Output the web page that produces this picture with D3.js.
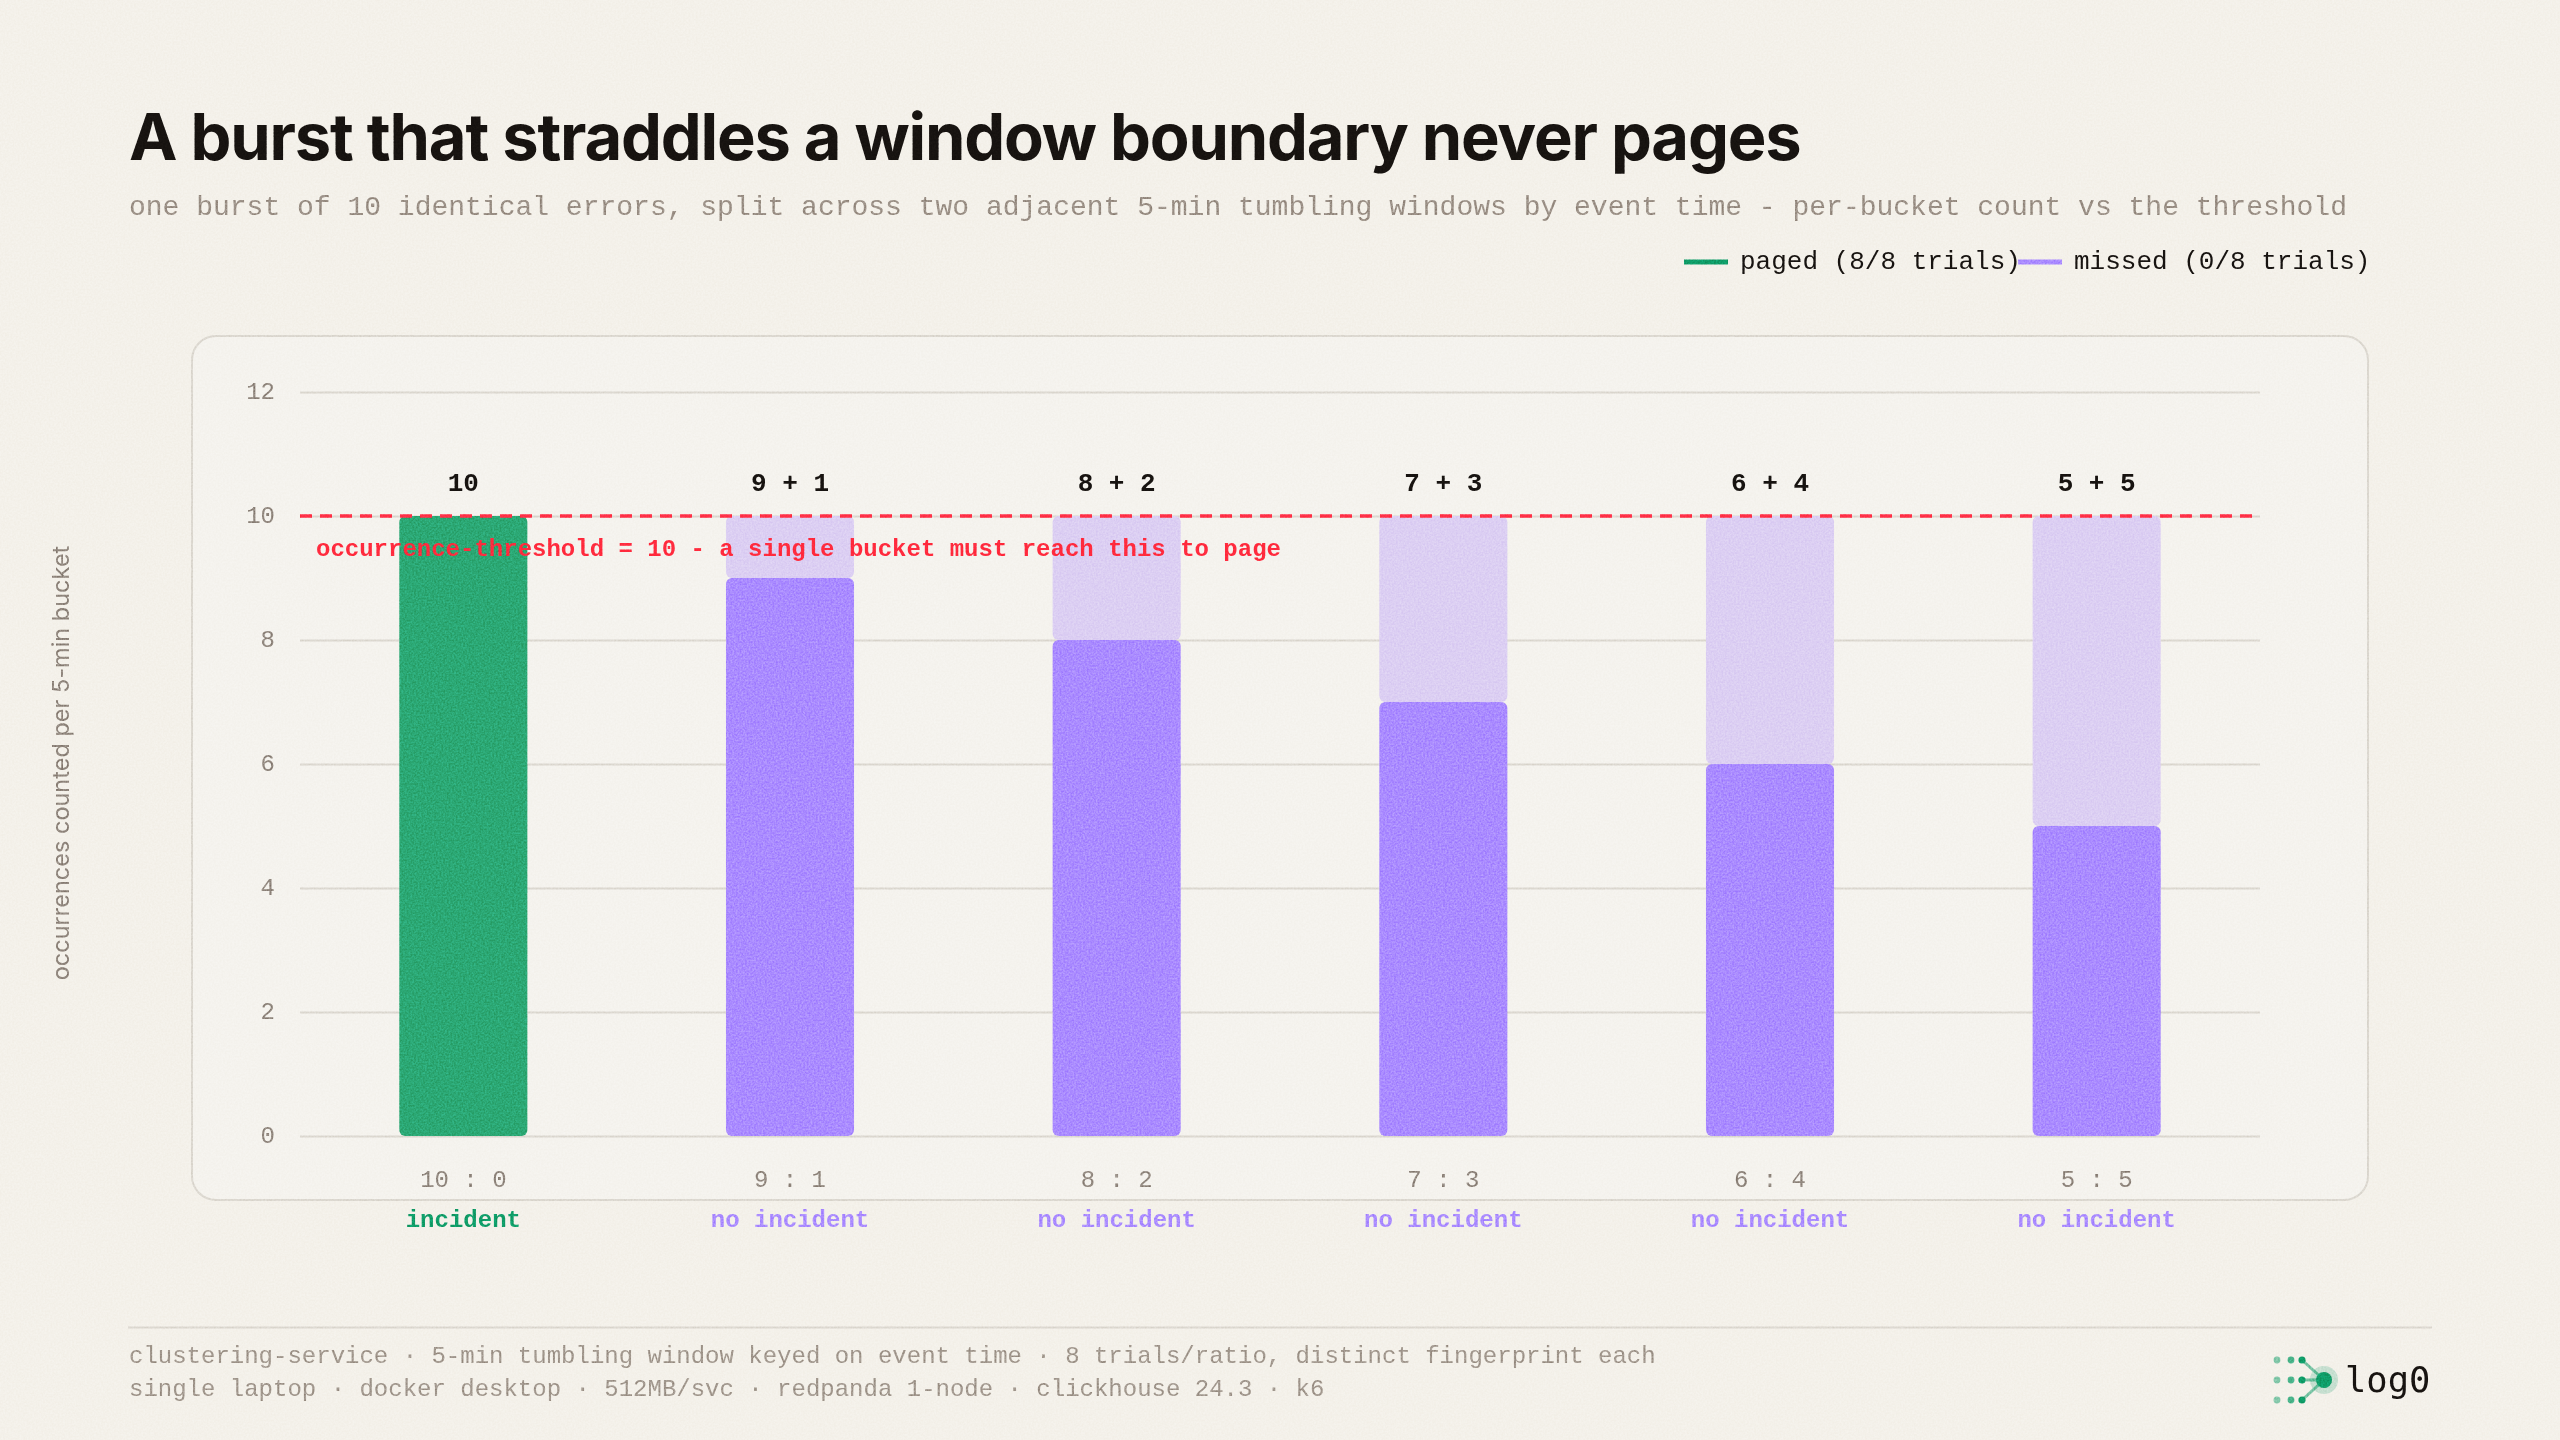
<!DOCTYPE html>
<html>
<head>
<meta charset="utf-8">
<script src="https://cdn.jsdelivr.net/npm/d3@7"></script>
<style>
  html, body { margin: 0; padding: 0; background: #f4f1ea; }
  svg { display: block; }
  text { font-family: "Liberation Mono", monospace; }
  .title { font-family: Inter, sans-serif; font-weight: 700; font-size: 65px; fill: #171310; letter-spacing: -1.2px; }
  .subtitle { font-size: 28px; fill: #9a8f85; }
  .legend-label { font-size: 26px; fill: #171310; }
  .ylabel { font-family: Inter, sans-serif; font-size: 23.5px; fill: #8f857c; }
  .grid line { stroke: #dcd8d0; stroke-width: 2; }
  .grid .domain { display: none; }
  .grid text { font-size: 24px; fill: #8f857c; }
  .ratio line, .ratio .domain { display: none; }
  .ratio text { font-size: 24px; fill: #8f857c; }
  .bar-label { font-size: 26px; font-weight: bold; fill: #171310; text-anchor: middle; }
  .status { font-size: 24px; font-weight: bold; text-anchor: middle; }
  .threshold-label { font-size: 24px; font-weight: bold; fill: #ff2a3d; }
  .footer { font-size: 24px; fill: #a0968c; }
  .logo-text { font-family: "DejaVu Sans Mono", monospace; font-size: 35.5px; fill: #171310; }
  .grain { mix-blend-mode: overlay; opacity: 0.18; pointer-events: none; }
</style>
</head>
<body>
<svg id="chart" width="2560" height="1440">
  <defs>
    <filter id="grain" x="0" y="0" width="100%" height="100%" color-interpolation-filters="sRGB">
      <feTurbulence type="fractalNoise" baseFrequency="0.55" numOctaves="2" seed="4"/>
      <feColorMatrix type="matrix" values="1.8 0 0 0 -0.4  1.8 0 0 0 -0.4  1.8 0 0 0 -0.4  0 0 0 0 1"/>
    </filter>
  </defs>
</svg>
<script>
const ratios = ["10 : 0", "9 : 1", "8 : 2", "7 : 3", "6 : 4", "5 : 5"];
const barLabels = ["10", "9 + 1", "8 + 2", "7 + 3", "6 + 4", "5 + 5"];
const firstBucket = [10, 9, 8, 7, 6, 5];
const secondBucket = [0, 1, 2, 3, 4, 5];
const statuses = ["incident", "no incident", "no incident", "no incident", "no incident", "no incident"];
const yTicks = [0, 2, 4, 6, 8, 10, 12];
const threshold = 10;
const legendItems = ["paged (8/8 trials)", "missed (0/8 trials)"];
const footerLines = [
  "clustering-service · 5-min tumbling window keyed on event time · 8 trials/ratio, distinct fingerprint each",
  "single laptop · docker desktop · 512MB/svc · redpanda 1-node · clickhouse 24.3 · k6"
];

const GREEN = "#0f9d68";
const GREEN_BAR = "#2ba874";
const PURPLE = "#aa8bff";
const PURPLE_LIGHT = "#dccff3";
const RED = "#ff2f46";

const svg = d3.select("#chart");

svg.append("text").attr("class", "title").attr("x", 129).attr("y", 160)
  .text("A burst that straddles a window boundary never pages");
svg.append("text").attr("class", "subtitle").attr("x", 129).attr("y", 215)
  .text("one burst of 10 identical errors, split across two adjacent 5-min tumbling windows by event time - per-bucket count vs the threshold");

// legend
const legendX = [1684, 2018];
const legendColors = [GREEN, PURPLE];
legendItems.forEach((label, i) => {
  svg.append("rect").attr("x", legendX[i]).attr("y", 259.5).attr("width", 44).attr("height", 5)
    .attr("fill", legendColors[i]);
  svg.append("text").attr("class", "legend-label").attr("x", legendX[i] + 56).attr("y", 269).text(label);
});

// card
svg.append("rect").attr("x", 192).attr("y", 336).attr("width", 2176).attr("height", 864)
  .attr("rx", 24).attr("fill", "#f5f3ee").attr("stroke", "#dcd8d0").attr("stroke-width", 2);

const x = d3.scaleBand().domain(ratios).range([300, 2260]).paddingInner(0.608).paddingOuter(0.304);
const y = d3.scaleLinear().domain([0, 12]).range([1136, 392]);

svg.append("g").attr("class", "grid")
  .attr("transform", "translate(300,0)")
  .call(d3.axisLeft(y).tickValues(yTicks).tickSize(-1960).tickPadding(25).tickFormat(d3.format("d")))
  .selectAll("text").attr("dy", "0.28em");

svg.append("g").attr("class", "ratio")
  .attr("transform", "translate(0,1136)")
  .call(d3.axisBottom(x).tickSize(0).tickPadding(34));

// bars: the second bucket sits behind, on top of the first
svg.append("g").selectAll("rect")
  .data(ratios.filter((d, i) => secondBucket[i] > 0))
  .join("rect")
  .attr("x", d => x(d))
  .attr("y", d => y(firstBucket[ratios.indexOf(d)] + secondBucket[ratios.indexOf(d)]))
  .attr("width", x.bandwidth())
  .attr("height", d => y(0) - y(secondBucket[ratios.indexOf(d)]))
  .attr("rx", 6)
  .attr("fill", PURPLE_LIGHT);

svg.append("g").selectAll("rect")
  .data(ratios)
  .join("rect")
  .attr("x", d => x(d))
  .attr("y", (d, i) => y(firstBucket[i]))
  .attr("width", x.bandwidth())
  .attr("height", (d, i) => y(0) - y(firstBucket[i]))
  .attr("rx", 6)
  .attr("fill", (d, i) => statuses[i] === "incident" ? GREEN_BAR : PURPLE);

svg.append("line").attr("x1", 300).attr("x2", 2260).attr("y1", y(threshold)).attr("y2", y(threshold))
  .attr("stroke", RED).attr("stroke-width", 3.5).attr("stroke-dasharray", "12 8");

svg.append("text").attr("class", "threshold-label").attr("x", 316).attr("y", 556)
  .text("occurrence-threshold = 10 - a single bucket must reach this to page");

svg.append("g").selectAll("text")
  .data(barLabels)
  .join("text")
  .attr("class", "bar-label")
  .attr("x", (d, i) => x(ratios[i]) + x.bandwidth() / 2)
  .attr("y", 491)
  .text(d => d);

svg.append("g").selectAll("text")
  .data(statuses)
  .join("text")
  .attr("class", "status")
  .attr("x", (d, i) => x(ratios[i]) + x.bandwidth() / 2)
  .attr("y", 1227)
  .attr("fill", d => d === "incident" ? GREEN : PURPLE)
  .text(d => d);

svg.append("text").attr("class", "ylabel")
  .attr("transform", "translate(69,763) rotate(-90)")
  .attr("text-anchor", "middle")
  .text("occurrences counted per 5-min bucket");

// footer
svg.append("line").attr("x1", 128).attr("x2", 2432).attr("y1", 1327.5).attr("y2", 1327.5)
  .attr("stroke", "#dcd8d0").attr("stroke-width", 2);
svg.selectAll(".footer").data(footerLines).join("text")
  .attr("class", "footer").attr("x", 129).attr("y", (d, i) => 1363 + i * 33).text(d => d);

// logo
const logo = svg.append("g");
const dotX = [2277, 2291, 2302];
const dotY = [1360, 1380, 1400];
const dotOpacity = [0.5, 0.75, 1];
const dotR = [3.4, 3.4, 3.6];
logo.append("circle").attr("cx", 2324).attr("cy", 1380).attr("r", 14).attr("fill", GREEN).attr("opacity", 0.2);
dotY.forEach(cy => {
  logo.append("line").attr("x1", 2302).attr("y1", cy).attr("x2", 2324).attr("y2", 1380)
    .attr("stroke", GREEN).attr("stroke-width", 3).attr("opacity", 0.55);
  dotX.forEach((cx, i) => {
    logo.append("circle").attr("cx", cx).attr("cy", cy).attr("r", dotR[i])
      .attr("fill", GREEN).attr("opacity", dotOpacity[i]);
  });
});
logo.append("circle").attr("cx", 2324).attr("cy", 1380).attr("r", 8).attr("fill", GREEN);
logo.append("text").attr("class", "logo-text").attr("x", 2345).attr("y", 1392).text("log0");

// paper grain over the whole picture
svg.append("rect").attr("class", "grain").attr("width", 2560).attr("height", 1440)
  .attr("filter", "url(#grain)");
</script>
</body>
</html>
